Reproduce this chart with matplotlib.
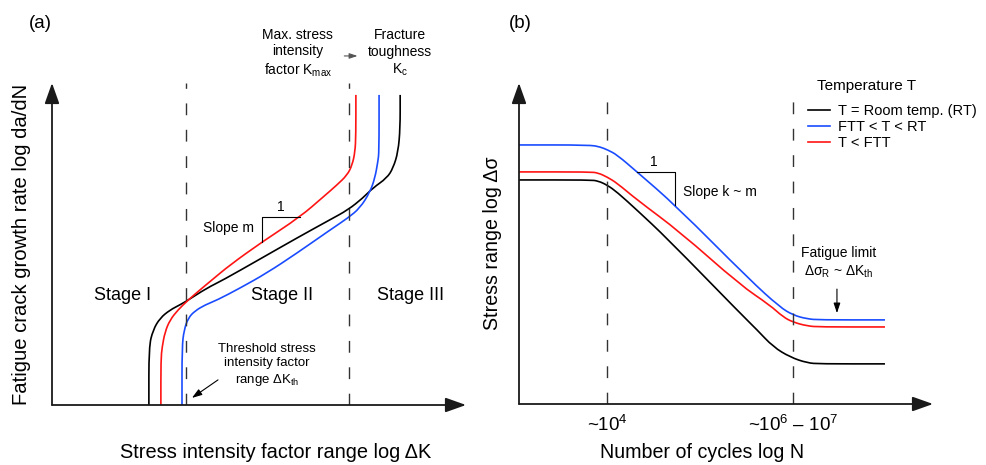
import matplotlib
matplotlib.use("Agg")
import matplotlib.pyplot as plt
from matplotlib.path import Path
from matplotlib.patches import PathPatch
from matplotlib.lines import Line2D

plt.rcParams["font.family"] = ["Liberation Sans", "DejaVu Sans"]
plt.rcParams["mathtext.fontset"] = "custom"
plt.rcParams["mathtext.rm"] = "Liberation Sans"
plt.rcParams["mathtext.it"] = "Liberation Sans:italic"

RED = "#ff1414"
BLUE = "#1a4cff"
DASH = "#333333"

# ------------------------------------------------------------
# (a) crack growth curves, arbitrary log units (0..10 on each axis)
# ------------------------------------------------------------
dk_black = [2.34, 2.34, 2.44, 2.61, 2.85, 3.09, 3.29, 3.74, 4.13, 5.02, 5.92,
            6.71, 7.15, 7.51, 7.75, 8.09, 8.24, 8.36, 8.41, 8.41]
dadn_black = [0.0, 1.80, 2.33, 2.70, 2.95, 3.11, 3.26, 3.63, 3.88, 4.53, 5.19,
              5.75, 6.06, 6.43, 6.74, 7.05, 7.36, 7.86, 8.60, 9.63]

dk_red = [2.63, 2.63, 2.66, 2.73, 2.85, 3.04, 3.29, 3.57, 3.86, 4.30, 5.07,
          5.99, 6.55, 6.88, 7.13, 7.25, 7.32, 7.34, 7.34]
dadn_red = [0.0, 1.40, 1.80, 2.27, 2.64, 2.95, 3.26, 3.57, 3.88, 4.35, 5.06,
            5.84, 6.46, 6.83, 7.14, 7.45, 7.86, 8.39, 9.63]

dk_blue = [3.14, 3.14, 3.19, 3.29, 3.45, 3.70, 3.99, 4.54, 5.19, 5.92, 6.71,
           7.15, 7.44, 7.68, 7.80, 7.87, 7.90, 7.90]
dadn_blue = [0.0, 1.80, 2.33, 2.70, 2.92, 3.11, 3.26, 3.63, 4.10, 4.72, 5.43,
             5.81, 6.12, 6.61, 7.05, 7.55, 7.86, 9.63]

stage_bounds = [3.24, 7.17]
stage_names = ["Stage I", "Stage II", "Stage III"]
stage_x = [1.71, 5.56, 8.65]

# ------------------------------------------------------------
# (b) S-N curves, arbitrary log units
# ------------------------------------------------------------
logn_black = [0.0, 1.71, 1.91, 2.13, 2.37, 2.85, 3.57, 5.34, 5.75, 6.14, 6.55,
              6.96, 7.27, 8.84]
ds_black = [6.98, 6.98, 6.95, 6.82, 6.60, 6.04, 5.17, 2.83, 2.31, 1.78, 1.46,
            1.28, 1.25, 1.25]

logn_red = [0.0, 1.71, 1.91, 2.13, 2.37, 2.85, 3.89, 5.34, 6.06, 6.38, 6.62,
            6.96, 7.27, 8.84]
ds_red = [7.23, 7.23, 7.20, 7.07, 6.88, 6.36, 5.36, 3.71, 3.08, 2.71, 2.55,
          2.43, 2.40, 2.40]

logn_blue = [0.0, 1.71, 1.96, 2.15, 2.37, 2.85, 3.77, 5.58, 6.30, 6.62, 6.96,
             7.27, 8.84]
ds_blue = [8.07, 8.07, 8.01, 7.91, 7.76, 7.23, 6.20, 3.86, 3.02, 2.77, 2.65,
           2.62, 2.62]

knee_cycles = [2.13, 6.62]
knee_labels = ["~10$^{4}$", "~10$^{6}$ – 10$^{7}$"]
legend_labels = ["T = Room temp. (RT)", "FTT < T < RT", "T < FTT"]


def smooth_curve(ax, xs, ys, color):
    # quadratic B-spline through the read points: points act as control
    # points, midpoints between them are the on-curve knots
    pts = list(zip(xs, ys))
    verts = [pts[0]]
    codes = [Path.MOVETO]
    mid = lambda a, b: ((a[0] + b[0]) / 2, (a[1] + b[1]) / 2)
    verts.append(mid(pts[0], pts[1]))
    codes.append(Path.LINETO)
    for k in range(1, len(pts) - 1):
        verts += [pts[k], mid(pts[k], pts[k + 1])]
        codes += [Path.CURVE3, Path.CURVE3]
    verts.append(pts[-1])
    codes.append(Path.LINETO)
    ax.add_patch(PathPatch(Path(verts, codes), fill=False, edgecolor=color,
                           lw=1.2, capstyle="butt"))
    return Line2D([], [], color=color, lw=1.2)


def axis_arrows(ax):
    for tip in [(1, 0), (0, 1)]:
        ax.annotate("", xy=tip, xytext=(0, 0), xycoords="axes fraction",
                    arrowprops=dict(arrowstyle="-|>,head_length=0.9,head_width=0.32",
                                    lw=1.3, color="#1a1a1a", mutation_scale=14,
                                    shrinkA=0, shrinkB=0))


def small_arrow(ax, start, end, color="black", scale=10):
    ax.annotate("", xy=end, xytext=start, annotation_clip=False,
                arrowprops=dict(arrowstyle="-|>,head_length=0.6,head_width=0.2",
                                lw=0.8, color=color, mutation_scale=scale,
                                shrinkA=0, shrinkB=0))


def bare(ax):
    ax.set_xlim(0, 10)
    ax.set_ylim(0, 10)
    for s in ax.spines.values():
        s.set_visible(False)
    ax.set_yticks([])
    ax.tick_params(length=0)


fig = plt.figure(figsize=(9.87, 4.65), dpi=100)

# ======================= panel (a) =======================
ax = fig.add_axes([52 / 987, 60 / 465, 414 / 987, 322 / 465])
bare(ax)
ax.set_xticks([])
axis_arrows(ax)

ax.vlines(stage_bounds, 0, 10, colors=DASH, lw=1.0, linestyles=(0, (8.5, 10.5)))
smooth_curve(ax, dk_black, dadn_black, "black")
smooth_curve(ax, dk_red, dadn_red, RED)
smooth_curve(ax, dk_blue, dadn_blue, BLUE)

# slope triangle hanging on the red Paris-law segment
i0, i1 = 10, 11
ax.plot([dk_red[i0], dk_red[i0], dk_red[i1]],
        [dadn_red[i0], dadn_red[i1], dadn_red[i1]], color="black", lw=0.8)
ax.text((dk_red[i0] + dk_red[i1]) / 2, dadn_red[i1] + 0.1, "1",
        ha="center", va="bottom", fontsize=10)
ax.text(dk_red[i0] - 0.2, 5.5, "Slope m", ha="right", va="center", fontsize=10)

for name, x in zip(stage_names, stage_x):
    ax.text(x, 3.39, name, ha="center", va="center", fontsize=13)

ax.text(5.19, 1.23, "Threshold stress\nintensity factor\nrange ΔK$_{\\mathrm{th}}$",
        ha="center", va="center", fontsize=9.5, linespacing=1.25)
small_arrow(ax, (4.01, 0.78), (3.38, 0.22))

ax.text(5.94, 10.92, "Max. stress\nintensity\nfactor K$_{\\mathrm{max}}$",
        ha="center", va="center", fontsize=10, linespacing=1.25)
ax.text(8.41, 10.92, "Fracture\ntoughness\nK$_{\\mathrm{c}}$",
        ha="center", va="center", fontsize=10, linespacing=1.25)
small_arrow(ax, (7.06, 10.84), (7.38, 10.84), color="#555555", scale=8)

ax.text(-0.29, 11.85, "(a)", ha="center", va="center", fontsize=13.5)

ax.set_xlabel("Stress intensity factor range log ΔK", fontsize=14.4)
ax.xaxis.set_label_coords(0.539, -0.148)
ax.xaxis.label.set_va("center")
ax.set_ylabel("Fatigue crack growth rate log da/dN", fontsize=14.6)
ax.yaxis.set_label_coords(-0.073, 0.5)
ax.yaxis.label.set_va("center")

# ======================= panel (b) =======================
bx = fig.add_axes([519 / 987, 61 / 465, 414 / 987, 321 / 465])
bare(bx)
axis_arrows(bx)

bx.vlines(knee_cycles, 0, 9.78, colors=DASH, lw=1.0, linestyles=(0, (8.5, 10.5)))
h_black = smooth_curve(bx, logn_black, ds_black, "black")
h_red = smooth_curve(bx, logn_red, ds_red, RED)
h_blue = smooth_curve(bx, logn_blue, ds_blue, BLUE)

# slope triangle on the blue Basquin segment
j0, j1 = 5, 6
bx.plot([logn_blue[j0], logn_blue[j1], logn_blue[j1]],
        [ds_blue[j0], ds_blue[j0], ds_blue[j1]], color="black", lw=0.8)
bx.text((logn_blue[j0] + logn_blue[j1]) / 2 - 0.05, ds_blue[j0] + 0.1, "1",
        ha="center", va="bottom", fontsize=10)
bx.text(logn_blue[j1] + 0.2, 6.6, "Slope k ~ m", ha="left", va="center", fontsize=10)

bx.text(7.71, 4.38, "Fatigue limit\nΔσ$_{\\mathrm{R}}$ ~ ΔK$_{\\mathrm{th}}$",
        ha="center", va="center", fontsize=10, linespacing=1.3)
small_arrow(bx, (7.68, 3.58), (7.68, 2.83))

bx.set_xticks(knee_cycles)
bx.set_xticklabels(knee_labels, fontsize=13.5)
bx.tick_params(axis="x", pad=8)

bx.text(0.02, 11.85, "(b)", ha="center", va="center", fontsize=13.5)

bx.text(7.2, 9.9, "Temperature T", ha="left", va="center", fontsize=11)
bx.legend([h_black, h_blue, h_red], legend_labels, loc="upper left",
          bbox_to_anchor=(808 / 987, 1 - 104 / 465), bbox_transform=fig.transFigure,
          frameon=False, fontsize=10.5, handlelength=1.5, handletextpad=0.55,
          labelspacing=0.15, borderpad=0, borderaxespad=0)

bx.set_xlabel("Number of cycles log N", fontsize=14.1)
bx.xaxis.set_label_coords(0.443, -0.15)
bx.xaxis.label.set_va("center")
bx.set_ylabel("Stress range log Δσ", fontsize=14.1)
bx.yaxis.set_label_coords(-0.063, 0.5)
bx.yaxis.label.set_va("center")

fig.savefig("out.png", dpi=100)
